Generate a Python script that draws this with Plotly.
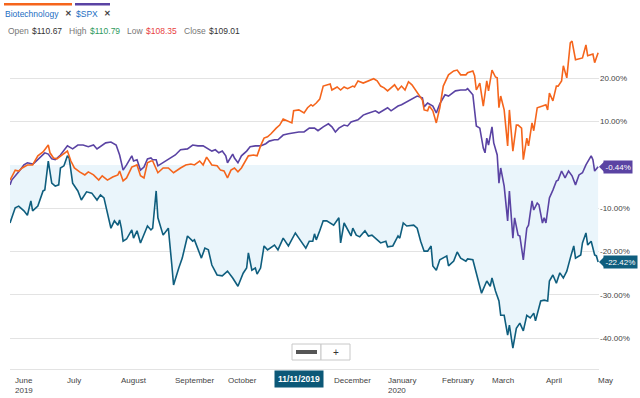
import plotly.graph_objects as go

# ---------------- data (percent change) ----------------
stk_dates = ["2019-05-29","2019-06-01","2019-06-03","2019-06-06","2019-06-08","2019-06-10","2019-06-11","2019-06-14","2019-06-17","2019-06-18",
"2019-06-20","2019-06-22","2019-06-24","2019-06-26","2019-06-27","2019-06-29","2019-07-01","2019-07-02","2019-07-04","2019-07-05",
"2019-07-07","2019-07-09","2019-07-12","2019-07-15","2019-07-18","2019-07-20","2019-07-22","2019-07-26","2019-07-28","2019-07-30",
"2019-07-31","2019-08-01","2019-08-02","2019-08-04","2019-08-07","2019-08-08","2019-08-10","2019-08-12","2019-08-15","2019-08-16",
"2019-08-18","2019-08-19","2019-08-21","2019-08-22","2019-08-25","2019-08-28","2019-08-30","2019-08-31","2019-09-03","2019-09-05",
"2019-09-08","2019-09-11","2019-09-12","2019-09-14","2019-09-16","2019-09-18","2019-09-20","2019-09-22","2019-09-25","2019-09-28",
"2019-10-01","2019-10-04","2019-10-07","2019-10-10","2019-10-12","2019-10-13","2019-10-15","2019-10-17","2019-10-18","2019-10-20",
"2019-10-22","2019-10-24","2019-10-28","2019-10-30","2019-11-02","2019-11-05","2019-11-09","2019-11-11","2019-11-15","2019-11-17",
"2019-11-19","2019-11-20","2019-11-21","2019-11-23","2019-11-25","2019-11-27","2019-11-29","2019-12-01","2019-12-04","2019-12-05",
"2019-12-07","2019-12-09","2019-12-11","2019-12-12","2019-12-14","2019-12-16","2019-12-19","2019-12-21","2019-12-23","2019-12-28",
"2019-12-31","2020-01-01","2020-01-04","2020-01-07","2020-01-08","2020-01-10","2020-01-12","2020-01-16","2020-01-18","2020-01-20",
"2020-01-22","2020-01-24","2020-01-26","2020-01-27","2020-01-29","2020-01-31","2020-02-04","2020-02-05","2020-02-08","2020-02-10",
"2020-02-12","2020-02-15","2020-02-16","2020-02-19","2020-02-22","2020-02-24","2020-02-27","2020-02-29","2020-03-01","2020-03-03",
"2020-03-05","2020-03-06","2020-03-08","2020-03-10","2020-03-11","2020-03-13","2020-03-15","2020-03-17","2020-03-19","2020-03-21",
"2020-03-23","2020-03-25","2020-03-26","2020-03-29","2020-03-31","2020-04-02","2020-04-03","2020-04-05","2020-04-07","2020-04-09",
"2020-04-11","2020-04-13","2020-04-15","2020-04-17","2020-04-18","2020-04-21","2020-04-22","2020-04-24","2020-04-25","2020-04-27",
"2020-04-29","2020-04-30","2020-05-01"]
stk_vals = [-13.4,-9.9,-9.5,-10.6,-11.6,-8.3,-10.6,-9.5,-6.0,-5.8,
0.9,-4.2,-4.9,-4.6,-0.7,-0.2,2.1,1.6,-4.2,-4.9,
-6.0,-8.1,-6.2,-6.5,-8.1,-6.9,-7.6,-14.6,-12.9,-13.9,
-12.7,-14.6,-17.6,-17.1,-15.0,-16.9,-15.2,-18.0,-15.2,-14.1,
-15.0,-14.6,-6.0,-12.2,-16.2,-14.6,-23.1,-27.7,-23.8,-21.5,
-16.4,-17.6,-17.3,-19.2,-21.5,-19.2,-19.6,-23.1,-25.4,-25.6,
-24.5,-26.1,-28.0,-25.0,-23.8,-20.3,-24.3,-23.8,-25.2,-23.8,
-18.7,-19.6,-18.5,-19.6,-16.9,-18.7,-15.7,-16.9,-19.2,-17.6,
-17.6,-15.9,-17.3,-15.2,-12.9,-12.9,-13.4,-13.9,-12.2,-18.0,
-13.4,-15.0,-16.4,-14.6,-16.2,-16.6,-15.2,-16.4,-16.2,-18.0,
-17.6,-18.9,-18.7,-16.4,-16.9,-13.4,-14.1,-13.9,-14.6,-17.6,
-19.9,-19.9,-18.7,-23.3,-24.3,-21.9,-21.0,-23.3,-22.2,-20.1,
-21.5,-22.2,-21.7,-21.9,-26.8,-29.6,-26.8,-28.0,-26.1,-29.1,
-31.4,-34.7,-34.7,-39.3,-37.0,-42.3,-37.7,-36.5,-38.3,-34.7,
-35.3,-34.2,-36.0,-31.4,-31.2,-31.4,-26.8,-25.4,-27.3,-24.9,
-26.1,-24.5,-21.5,-18.7,-21.5,-20.8,-18.0,-15.7,-18.5,-17.6,
-20.8,-21.0,-22.42]

spx_dates = ["2019-05-29","2019-05-30","2019-06-03","2019-06-06","2019-06-08","2019-06-11","2019-06-12","2019-06-15","2019-06-18","2019-06-20",
"2019-06-22","2019-06-24","2019-06-27","2019-07-01","2019-07-04","2019-07-07","2019-07-10","2019-07-13","2019-07-16","2019-07-18",
"2019-07-21","2019-07-23","2019-07-26","2019-07-29","2019-07-31","2019-08-02","2019-08-04","2019-08-07","2019-08-08","2019-08-10",
"2019-08-12","2019-08-14","2019-08-16","2019-08-18","2019-08-19","2019-08-21","2019-08-22","2019-08-25","2019-08-28","2019-09-01",
"2019-09-04","2019-09-08","2019-09-11","2019-09-14","2019-09-17","2019-09-20","2019-09-22","2019-09-24","2019-09-26","2019-09-28",
"2019-09-30","2019-10-01","2019-10-04","2019-10-05","2019-10-07","2019-10-09","2019-10-12","2019-10-14","2019-10-17","2019-10-20",
"2019-10-23","2019-10-25","2019-10-28","2019-10-30","2019-11-02","2019-11-05","2019-11-08","2019-11-11","2019-11-14","2019-11-17",
"2019-11-20","2019-11-22","2019-11-25","2019-11-28","2019-11-30","2019-12-02","2019-12-04","2019-12-07","2019-12-09","2019-12-11",
"2019-12-15","2019-12-18","2019-12-20","2019-12-23","2019-12-25","2019-12-27","2019-12-30","2020-01-01","2020-01-03","2020-01-07",
"2020-01-09","2020-01-12","2020-01-15","2020-01-18","2020-01-21","2020-01-22","2020-01-24","2020-01-27","2020-01-29","2020-01-31",
"2020-02-03","2020-02-05","2020-02-09","2020-02-12","2020-02-15","2020-02-16","2020-02-19","2020-02-20","2020-02-21","2020-02-23",
"2020-02-25","2020-02-26","2020-02-27","2020-02-28","2020-03-01","2020-03-02","2020-03-04","2020-03-05","2020-03-06","2020-03-08",
"2020-03-10","2020-03-11","2020-03-13","2020-03-14","2020-03-16","2020-03-17","2020-03-19","2020-03-21","2020-03-22","2020-03-24",
"2020-03-25","2020-03-27","2020-03-28","2020-03-30","2020-03-31","2020-04-01","2020-04-03","2020-04-05","2020-04-07","2020-04-08",
"2020-04-10","2020-04-12","2020-04-14","2020-04-16","2020-04-18","2020-04-20","2020-04-22","2020-04-24","2020-04-27","2020-04-28",
"2020-04-29","2020-05-01"]
spx_vals = [-4.6,-3.5,-1.6,0.0,0.5,0.2,0.5,1.6,2.8,2.5,
1.4,1.2,2.3,4.4,3.7,4.6,4.6,4.2,4.6,3.7,
4.6,5.1,5.3,4.6,2.3,-1.2,0.0,2.1,0.9,1.2,
-1.2,-0.5,1.4,1.6,1.2,1.2,-0.2,0.5,1.2,2.3,
3.5,3.7,4.6,4.4,4.4,3.7,3.2,3.5,2.8,3.2,
2.1,0.5,2.5,1.6,0.5,2.1,3.2,4.2,4.4,4.4,
4.9,5.5,5.8,5.8,6.9,7.2,7.4,7.6,7.6,8.5,
8.5,7.9,8.8,9.5,8.8,7.6,8.5,9.2,9.0,9.9,
10.4,11.5,11.8,12.2,12.5,12.0,12.7,13.2,12.5,13.6,
13.9,14.6,15.2,15.9,15.5,13.4,14.3,13.6,12.0,14.1,
16.2,15.9,17.1,17.3,17.3,17.6,16.2,12.5,9.0,8.5,
3.9,2.8,6.2,4.6,8.8,5.1,2.3,-4.2,-0.7,-4.9,
-12.9,-6.0,-16.9,-12.2,-16.2,-16.4,-21.9,-14.6,-13.9,-8.3,
-10.4,-8.8,-9.2,-13.4,-12.2,-13.4,-7.6,-5.8,-3.7,-3.5,
-1.4,-3.0,-1.4,-2.5,-4.6,-2.3,-1.8,0.0,2.1,1.2,
-1.4,-0.44]

bio_dates = ["2019-05-29","2019-06-01","2019-06-03","2019-06-05","2019-06-08","2019-06-11","2019-06-14","2019-06-17","2019-06-20","2019-06-21",
"2019-06-23","2019-06-25","2019-06-28","2019-07-01","2019-07-03","2019-07-05","2019-07-08","2019-07-11","2019-07-13","2019-07-16",
"2019-07-19","2019-07-21","2019-07-24","2019-07-27","2019-07-30","2019-07-31","2019-08-02","2019-08-04","2019-08-07","2019-08-10",
"2019-08-12","2019-08-14","2019-08-16","2019-08-18","2019-08-19","2019-08-21","2019-08-22","2019-08-25","2019-08-28","2019-08-31",
"2019-09-02","2019-09-04","2019-09-07","2019-09-10","2019-09-12","2019-09-15","2019-09-17","2019-09-19","2019-09-22","2019-09-25",
"2019-09-27","2019-09-29","2019-10-01","2019-10-03","2019-10-05","2019-10-07","2019-10-09","2019-10-12","2019-10-13","2019-10-16",
"2019-10-18","2019-10-20","2019-10-22","2019-10-24","2019-10-26","2019-10-29","2019-10-31","2019-11-02","2019-11-04","2019-11-07",
"2019-11-08","2019-11-11","2019-11-14","2019-11-16","2019-11-18","2019-11-19","2019-11-21","2019-11-23","2019-11-25","2019-11-27",
"2019-11-29","2019-11-30","2019-12-03","2019-12-05","2019-12-07","2019-12-09","2019-12-12","2019-12-13","2019-12-15","2019-12-18",
"2019-12-21","2019-12-24","2019-12-26","2019-12-28","2019-12-30","2020-01-01","2020-01-03","2020-01-05","2020-01-07","2020-01-09",
"2020-01-11","2020-01-13","2020-01-15","2020-01-17","2020-01-19","2020-01-21","2020-01-22","2020-01-24","2020-01-25","2020-01-27",
"2020-01-29","2020-01-31","2020-02-02","2020-02-04","2020-02-05","2020-02-08","2020-02-10","2020-02-12","2020-02-15","2020-02-16",
"2020-02-19","2020-02-20","2020-02-21","2020-02-23","2020-02-25","2020-02-27","2020-02-28","2020-03-01","2020-03-03","2020-03-04",
"2020-03-05","2020-03-06","2020-03-08","2020-03-10","2020-03-11","2020-03-13","2020-03-15","2020-03-16","2020-03-18","2020-03-19",
"2020-03-21","2020-03-22","2020-03-24","2020-03-25","2020-03-27","2020-03-30","2020-04-01","2020-04-02","2020-04-03","2020-04-05",
"2020-04-07","2020-04-08","2020-04-10","2020-04-11","2020-04-13","2020-04-15","2020-04-16","2020-04-18","2020-04-21","2020-04-22",
"2020-04-24","2020-04-25","2020-04-28","2020-04-29","2020-05-01"]
bio_vals = [-3.5,-1.2,-1.4,-0.7,0.0,0.0,2.1,3.0,4.6,2.8,
1.6,1.4,2.3,3.2,0.9,-0.7,-1.6,-2.3,-1.6,-2.3,
-3.5,-2.5,-3.5,-2.8,-2.3,-1.4,-3.7,-3.0,-0.5,0.0,
-2.5,-3.0,0.5,0.9,0.9,-0.7,-1.8,-0.7,-0.7,-1.8,
-1.2,-0.7,0.0,0.2,0.0,0.9,0.0,1.8,0.0,-0.2,
-1.2,-1.4,-3.0,-1.2,-0.7,-1.6,-0.7,1.2,2.1,2.3,
2.1,4.4,6.2,6.5,7.2,8.5,9.2,10.6,10.2,9.7,
12.5,12.7,12.0,13.2,13.9,13.6,14.3,15.2,18.2,18.5,
18.7,17.3,18.0,17.3,18.0,17.6,18.2,18.0,19.4,18.9,
19.4,19.9,19.4,18.2,17.8,17.1,17.8,18.5,17.3,18.2,
17.3,19.2,18.5,17.3,16.2,15.0,12.7,12.5,13.6,12.5,
9.7,13.2,18.2,20.1,20.8,21.7,21.9,20.8,20.8,21.3,
21.7,20.6,17.3,18.9,13.6,19.4,17.1,21.9,20.3,20.1,
13.2,15.9,12.7,4.4,12.7,3.2,9.2,9.2,8.5,1.2,
6.2,4.4,9.7,7.9,13.2,13.6,13.9,12.7,16.6,14.8,
18.2,18.2,19.4,22.9,20.1,28.2,28.6,24.3,24.5,24.7,
27.7,25.2,25.6,23.6,25.9]

y_tick_vals = [20, 10, -10, -20, -30, -40]
y_tick_text = ["20.00%", "10.00%", "-10.00%", "-20.00%", "-30.00%", "-40.00%"]
month_dates = ["2019-06-01","2019-07-01","2019-08-01","2019-09-01","2019-10-01","2019-12-01",
               "2020-01-01","2020-02-01","2020-03-01","2020-04-01","2020-05-01"]
month_labels = ["June<br>2019","July","August","September","October","December",
                "January<br>2020","February","March","April","May"]
cursor_date = "2019-11-11"
cursor_label = "11/11/2019"
series_names = ["Biotechnology", "$SPX"]
ohlc_labels = ["Open", "High", "Low", "Close"]
ohlc_values = ["$110.67", "$110.79", "$108.35", "$109.01"]

# ---------------- styling ----------------
FONT = "Arial, 'Liberation Sans', Helvetica, sans-serif"
ORANGE = "#f5651c"
PURPLE = "#5a43a3"
TEAL = "#0f5e7e"
FILL = "#eaf5fb"
GRID = "#e3e3e3"
W, H = 640, 398
ML, MR, MT, MB = 10, 41, 38, 29
PW, PH = W - ML - MR, H - MT - MB


def px(x):
    return (x - ML) / PW


def py(y):
    return (H - MB - y) / PH


fig = go.Figure()
fig.add_trace(go.Scatter(x=stk_dates, y=stk_vals, mode="lines", fill="tozeroy",
                         fillcolor=FILL, line=dict(color=TEAL, width=1.6),
                         hoverinfo="skip", showlegend=False))
fig.add_trace(go.Scatter(x=spx_dates, y=spx_vals, mode="lines",
                         line=dict(color=PURPLE, width=1.6),
                         hoverinfo="skip", showlegend=False))
fig.add_trace(go.Scatter(x=bio_dates, y=bio_vals, mode="lines",
                         line=dict(color=ORANGE, width=1.6),
                         hoverinfo="skip", showlegend=False))

ann = []
shapes = []

# month labels
for d, lab in zip(month_dates, month_labels):
    ann.append(dict(x=d, y=0, xref="x", yref="paper", text=lab, showarrow=False,
                    xanchor="left", yanchor="top", align="left", yshift=-5, xshift=-2,
                    font=dict(family=FONT, size=8, color="#444")))
# cursor date box
ann.append(dict(x=cursor_date, y=0, xref="x", yref="paper", text="<b>" + cursor_label + "</b>",
                showarrow=False, xanchor="center", yanchor="top", yshift=-1,
                bgcolor="#0c5877", borderpad=3,
                font=dict(family=FONT, size=8.5, color="white")))

# end-value badges
for val, col, txt in [(spx_vals[-1], PURPLE, "%.2f%%" % spx_vals[-1]),
                      (stk_vals[-1], TEAL, "%.2f%%" % stk_vals[-1])]:
    ann.append(dict(x=1, y=val, xref="paper", yref="y", text=txt, showarrow=False,
                    xanchor="left", yanchor="middle", xshift=4, bgcolor=col, borderpad=1.5,
                    font=dict(family=FONT, size=8, color="white")))
    shapes.append(dict(type="path", xref="paper", yref="y", xsizemode="pixel", ysizemode="pixel",
                       xanchor=1, yanchor=val, path="M 0 0 L 5 5 L 5 -5 Z",
                       fillcolor=col, line=dict(width=0)))

# legend header
legend_items = [(series_names[0], ORANGE, 4, 72, 68), (series_names[1], PURPLE, 75, 110, 107)]
for name, col, x0, x1, xx in legend_items:
    shapes.append(dict(type="rect", xref="paper", yref="paper", x0=px(x0), x1=px(x1),
                       y0=py(5.5), y1=py(3), fillcolor=col, line=dict(width=0)))
    ann.append(dict(x=px(x0), y=py(14), xref="paper", yref="paper", text=name, showarrow=False,
                    xanchor="left", yanchor="middle", xshift=-1,
                    font=dict(family=FONT, size=8.5, color="#1b6ec2")))
    ann.append(dict(x=px(xx), y=py(14), xref="paper", yref="paper", text="<b>✕</b>", showarrow=False,
                    xanchor="center", yanchor="middle",
                    font=dict(family=FONT, size=8, color="#444")))

# OHLC row
label_x = [7, 68, 126, 183]
value_x = [31, 89, 145, 208]
value_col = ["#333", "#2e9a5e", "#e8423f", "#333"]
for lab, lx, v, vx, vc in zip(ohlc_labels, label_x, ohlc_values, value_x, value_col):
    ann.append(dict(x=px(lx), y=py(31), xref="paper", yref="paper", text=lab, showarrow=False,
                    xanchor="left", yanchor="middle", xshift=-1,
                    font=dict(family=FONT, size=8.5, color="#777")))
    ann.append(dict(x=px(vx), y=py(31), xref="paper", yref="paper", text=v, showarrow=False,
                    xanchor="left", yanchor="middle", xshift=-1,
                    font=dict(family=FONT, size=8.5, color=vc)))

# navigator zoom buttons
shapes.append(dict(type="rect", xref="paper", yref="paper", x0=px(292), x1=px(321), y0=py(360), y1=py(344),
                   fillcolor="white", line=dict(color="#c8c8c8", width=1)))
shapes.append(dict(type="rect", xref="paper", yref="paper", x0=px(321), x1=px(350), y0=py(360), y1=py(344),
                   fillcolor="white", line=dict(color="#c8c8c8", width=1)))
shapes.append(dict(type="rect", xref="paper", yref="paper", x0=px(296), x1=px(317), y0=py(354), y1=py(350),
                   fillcolor="#555", line=dict(width=0)))
ann.append(dict(x=px(335.5), y=py(352), xref="paper", yref="paper", text="+", showarrow=False,
                xanchor="center", yanchor="middle",
                font=dict(family=FONT, size=10, color="#333")))

fig.update_layout(
    width=W, height=H,
    margin=dict(l=ML, r=MR, t=MT, b=MB),
    paper_bgcolor="white", plot_bgcolor="white",
    showlegend=False,
    font=dict(family=FONT, size=8, color="#444"),
    xaxis=dict(range=["2019-05-29", "2020-05-01 12:00"], showgrid=False, showticklabels=False,
               showline=True, linecolor=GRID, linewidth=1, zeroline=False, ticks="", fixedrange=True),
    yaxis=dict(side="right", range=[-47.1, 29.3], tickvals=y_tick_vals, ticktext=y_tick_text,
               showgrid=True, gridcolor=GRID, gridwidth=1, zeroline=False, ticks="",
               tickfont=dict(family=FONT, size=8, color="#444"), fixedrange=True),
    annotations=ann,
    shapes=shapes,
)

fig.write_html("out.html", config={"displayModeBar": False},
               post_script="document.body.style.margin='0';document.body.style.padding='0';document.body.style.overflow='hidden';")
